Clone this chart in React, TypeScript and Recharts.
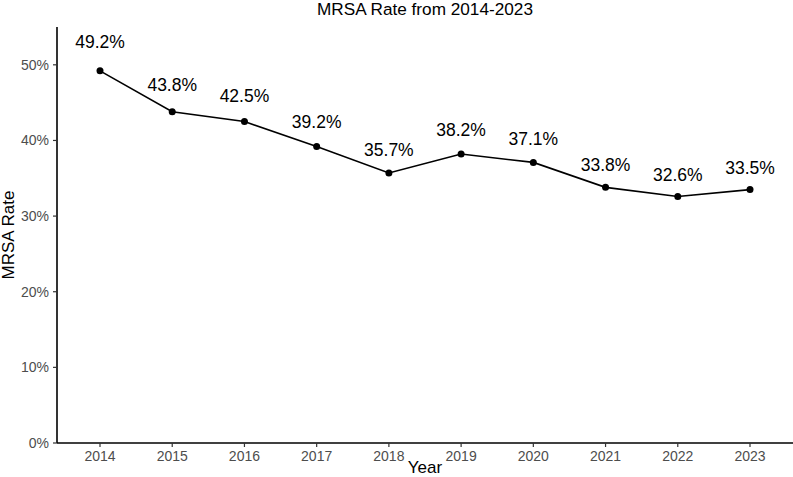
import React from 'react';
import { LineChart, Line, XAxis, YAxis, LabelList } from 'recharts';

// MRSA rate by year, in percent
const years: string[] = ['2014', '2015', '2016', '2017', '2018', '2019', '2020', '2021', '2022', '2023'];
const mrsaRate: number[] = [49.2, 43.8, 42.5, 39.2, 35.7, 38.2, 37.1, 33.8, 32.6, 33.5];
const yTicks: number[] = [0, 10, 20, 30, 40, 50];

const data = years.map((year, i) => ({ year, rate: mrsaRate[i] }));

const FONT = '"Liberation Sans", Arial, Helvetica, sans-serif';
const W = 793;
const H = 477;
const TOP = 27;
const X_AXIS_H = 34;
const Y_AXIS_W = 57;
const PLOT_BOTTOM = H - X_AXIS_H;

// Value labels sit just above each point, lifted in proportion to the value
const ValueLabel = (props: any) => {
  const { x, y, value } = props;
  const baseline = y - (PLOT_BOTTOM - y) * 0.062;
  return (
    <text x={x} y={baseline} textAnchor="middle" fontSize={17.5} fontFamily={FONT} fill="#000">
      {`${Number(value).toFixed(1)}%`}
    </text>
  );
};

export default function App() {
  const tickStyle = { fill: '#4d4d4d', fontSize: 14, fontFamily: FONT };
  return (
    <div style={{ position: 'absolute', left: 0, top: 0, width: W, height: H, background: '#fff' }}>
      <LineChart width={W} height={H} data={data} margin={{ top: TOP, right: 0, bottom: 0, left: 0 }}>
        <XAxis
          dataKey="year"
          type="category"
          height={X_AXIS_H}
          padding={{ left: 43, right: 43 }}
          axisLine={{ stroke: '#000', strokeWidth: 1.6 }}
          tickLine={{ stroke: '#333', strokeWidth: 1.2 }}
          tickSize={4}
          tickMargin={4}
          tick={tickStyle}
          interval={0}
        />
        <YAxis
          type="number"
          width={Y_AXIS_W}
          domain={[0, 55]}
          ticks={yTicks}
          tickFormatter={(v: number) => `${v}%`}
          axisLine={{ stroke: '#000', strokeWidth: 1.6 }}
          tickLine={{ stroke: '#333', strokeWidth: 1.2 }}
          tickSize={4}
          tickMargin={4}
          tick={tickStyle}
          allowDataOverflow
        />
        <Line
          type="linear"
          dataKey="rate"
          stroke="#000"
          strokeWidth={1.6}
          dot={{ r: 3.5, fill: '#000', stroke: '#000', strokeWidth: 0 }}
          activeDot={false}
          isAnimationActive={false}
        >
          <LabelList dataKey="rate" content={ValueLabel} />
        </Line>
      </LineChart>
      <svg
        width={W}
        height={H}
        style={{ position: 'absolute', left: 0, top: 0, pointerEvents: 'none' }}
      >
        <text x={425} y={14.5} textAnchor="middle" fontSize={17.2} fontFamily={FONT} fill="#000">
          MRSA Rate from 2014-2023
        </text>
        <text x={425} y={473} textAnchor="middle" fontSize={17} fontFamily={FONT} fill="#000">
          Year
        </text>
        <text
          x={14}
          y={235}
          textAnchor="middle"
          fontSize={17}
          fontFamily={FONT}
          fill="#000"
          transform="rotate(-90 14 235)"
        >
          MRSA Rate
        </text>
      </svg>
    </div>
  );
}
